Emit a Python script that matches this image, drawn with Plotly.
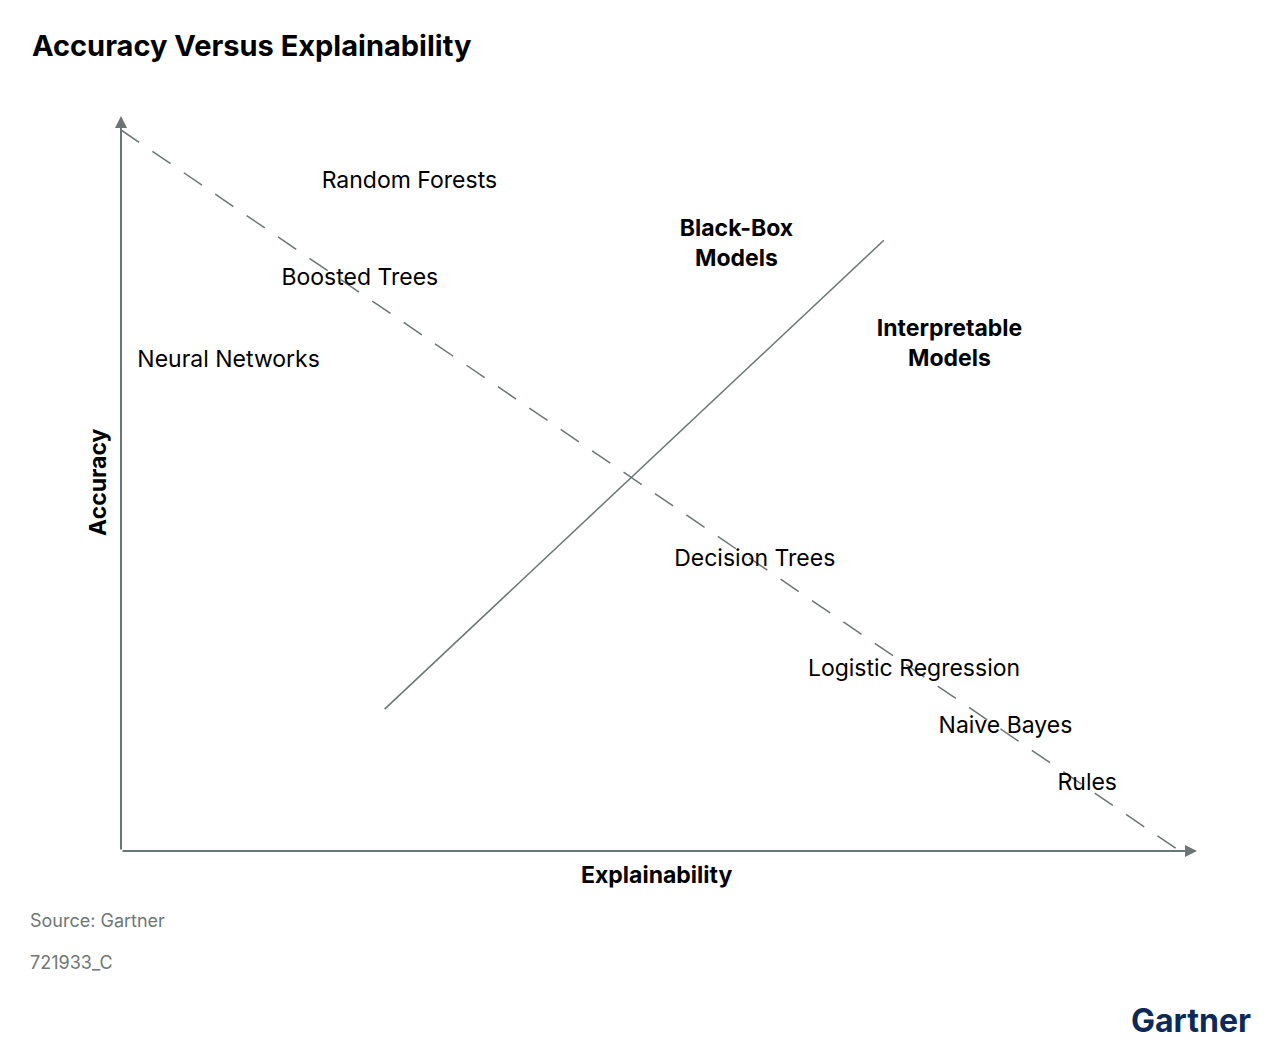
import plotly.graph_objects as go

# Data (conceptual positions in a 0-100 space)
model_names = ["Random Forests", "Boosted Trees", "Neural Networks", "Decision Trees",
               "Logistic Regression", "Naive Bayes", "Rules"]
model_x = [26.8, 22.2, 10.0, 58.9, 73.7, 82.2, 89.8]
model_y = [91.0, 77.8, 66.6, 39.6, 24.6, 16.8, 9.1]

region_names = ["Black-Box<br>Models", "Interpretable<br>Models"]
region_x = [57.2, 77.0]
region_y = [82.4, 68.8]

trend_x = [0.0, 98.4]
trend_y = [98.1, 0.0]

divider_x = [24.5, 70.9]
divider_y = [19.3, 83.1]

GRAY = "#6c7575"
FONT = "Inter"

W, H = 1275, 1046
L, R, T, B = 121, 78, 116, 195
pw, ph = W - L - R, H - T - B


def px(xp):
    return (xp - L) / pw


def py(yp):
    return (H - B - yp) / ph


fig = go.Figure()
fig.add_trace(go.Scatter(x=trend_x, y=trend_y, mode="lines",
                         line=dict(color=GRAY, width=1.5, dash="22px,16px"),
                         hoverinfo="skip", showlegend=False))
fig.add_trace(go.Scatter(x=divider_x, y=divider_y, mode="lines",
                         line=dict(color=GRAY, width=1.5),
                         hoverinfo="skip", showlegend=False))
fig.add_trace(go.Scatter(x=model_x, y=model_y, mode="text", text=model_names,
                         textposition="middle center",
                         textfont=dict(family=FONT, size=23, color="#000000"),
                         hoverinfo="skip", showlegend=False))
fig.add_trace(go.Scatter(x=region_x, y=region_y, mode="text",
                         text=["<b>" + t.replace("<br>", "</b><br><b>") + "</b>" for t in region_names],
                         textposition="middle center",
                         textfont=dict(family=FONT, size=23, color="#000000"),
                         hoverinfo="skip", showlegend=False))

# axes with arrows
fig.add_annotation(x=100, y=0, ax=0, ay=0, xref="x", yref="y", axref="x", ayref="y",
                   showarrow=True, arrowhead=2, arrowsize=1.2, arrowwidth=2,
                   arrowcolor=GRAY, text="")
fig.add_annotation(x=0, y=100, ax=0, ay=0, xref="x", yref="y", axref="x", ayref="y",
                   showarrow=True, arrowhead=2, arrowsize=1.2, arrowwidth=2,
                   arrowcolor=GRAY, text="")

fig.add_annotation(text="<b>Explainability</b>", x=px(656), y=py(875), xref="paper", yref="paper",
                   xanchor="center", yanchor="middle",
                   showarrow=False, font=dict(family=FONT, size=23, color="#000"))
fig.add_annotation(text="<b>Accuracy</b>", x=px(98), y=py(482), xref="paper", yref="paper",
                   xanchor="center", yanchor="middle",
                   showarrow=False, textangle=-90, font=dict(family=FONT, size=23, color="#000"))

fig.add_annotation(text="<b>Accuracy Versus Explainability</b>", x=px(30), y=py(46),
                   xref="paper", yref="paper", showarrow=False, xanchor="left", yanchor="middle",
                   font=dict(family=FONT, size=29, color="#000"))
fig.add_annotation(text="Source: Gartner", xref="paper", yref="paper", x=px(28), y=py(920),
                   xanchor="left", yanchor="middle",
                   showarrow=False, font=dict(family=FONT, size=18, color="#6f7777"))
fig.add_annotation(text="721933_C", xref="paper", yref="paper", x=px(28), y=py(962),
                   xanchor="left", yanchor="middle",
                   showarrow=False, font=dict(family=FONT, size=18, color="#6f7777"))
fig.add_annotation(text="<b>Gartner</b>", xref="paper", yref="paper", x=px(1253), y=py(1020),
                   xanchor="right", yanchor="middle",
                   showarrow=False, font=dict(family=FONT, size=32, color="#0b2a57"))

fig.update_xaxes(range=[0, 100], visible=False, fixedrange=True)
fig.update_yaxes(range=[0, 100], visible=False, fixedrange=True)
fig.update_layout(width=W, height=H, margin=dict(l=L, r=R, t=T, b=B),
                  plot_bgcolor="white", paper_bgcolor="white", showlegend=False)

fig.write_html("out.html", config={"displayModeBar": False})
